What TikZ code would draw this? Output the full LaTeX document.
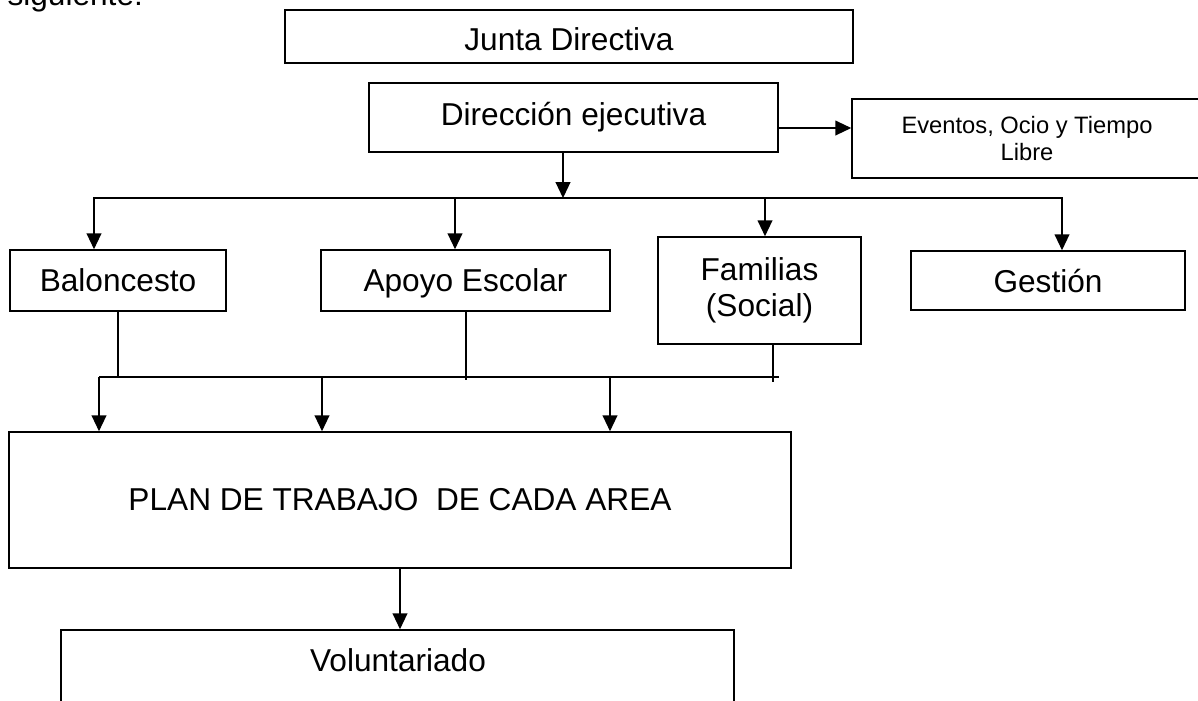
\documentclass[tikz,border=0pt]{standalone}
\usepackage{fontspec}
\setmainfont{Liberation Sans}
\usepackage{tikz}
\usetikzlibrary{positioning,arrows.meta}

\begin{document}
\begin{tikzpicture}[
    x=0.01333cm, y=-0.01333cm,
    caja/.style={rectangle, draw=black, line width=0.6pt, inner sep=0pt, align=center, font=\fontsize{12}{13.5}\selectfont},
    tam/.style 2 args={minimum width={#1*0.01333cm}, minimum height={#2*0.01333cm}},
    flecha/.style={-{Triangle[length=6pt,width=5.6pt]}, line width=0.5pt},
    linea/.style={line width=0.5pt}
]
    \path[use as bounding box, clip] (0,0) rectangle (1198,700);

    \node[anchor=base west, inner sep=0pt, font=\fontsize{12}{13.5}\selectfont] (sig) at (7,5) {siguiente:};

    \node[caja, tam={568}{53}, text height=11pt] (junta) at (569,36.5) {Junta Directiva};
    \node[caja, tam={409}{69}] (dir) at (573.5,117.5) {Dirección ejecutiva};
    \node[caja, tam={350}{79}, font=\fontsize{9}{10.6}\selectfont] (eventos) at (1027,138.5) {Eventos, Ocio y Tiempo\\Libre};

    \node[caja, tam={216}{61}] (balon) at (118,280.5) {Baloncesto};
    \node[caja, tam={289}{61}, text depth=0pt] (apoyo) at (465.5,280.5) {Apoyo Escolar};
    \node[caja, tam={203}{107}] (familias) at (759.5,290.5) {Familias\\(Social)};
    \node[caja, tam={274}{59}] (gestion) at (1048,280.5) {Gestión};

    \node[caja, tam={782}{136}] (plan) at (400,500) {PLAN DE TRABAJO\ \ DE CADA AREA};
    \node[caja, tam={673}{110}] (volunt) at (397.5,685) {};
    \node[font=\fontsize{12}{13.5}\selectfont, inner sep=0pt] (voltxt) at (398,660) {Voluntariado};

    \coordinate (nivelev) at (815,128);
    \coordinate (bus1a) at (94,198);
    \coordinate (bus1b) at (455,198);
    \coordinate (bus1c) at (563,198);
    \coordinate (bus1d) at (765,198);
    \coordinate (bus1e) at (1062,198);
    \coordinate (bus2a) at (99,377);
    \coordinate (bus2b) at (322,377);
    \coordinate (bus2c) at (610,377);
    \coordinate (bus2d) at (779,377);
    \coordinate (apfin) at (466,380);
    \coordinate (fafin) at (773,382);

    \draw[flecha] (dir.east |- nivelev) -- (eventos.west |- nivelev);
    \draw[flecha] (dir.south -| bus1c) -- (bus1c);

    \draw[flecha] (bus1c) -- (bus1a) -- (bus1a |- balon.north);
    \draw[flecha] (bus1c) -- (bus1e) -- (bus1e |- gestion.north);
    \draw[flecha] (bus1b) -- (bus1b |- apoyo.north);
    \draw[flecha] (bus1d) -- (bus1d |- familias.north);

    \draw[linea] (balon.south) -- (balon.south |- bus2a);
    \draw[linea] (apoyo.south -| apfin) -- (apfin);
    \draw[linea] (familias.south -| fafin) -- (fafin);
    \draw[linea] (bus2a) -- (bus2d);

    \draw[flecha] (bus2a) -- (bus2a |- plan.north);
    \draw[flecha] (bus2b) -- (bus2b |- plan.north);
    \draw[flecha] (bus2c) -- (bus2c |- plan.north);

    \draw[flecha] (plan.south) -- (plan.south |- volunt.north);
\end{tikzpicture}
\end{document}
